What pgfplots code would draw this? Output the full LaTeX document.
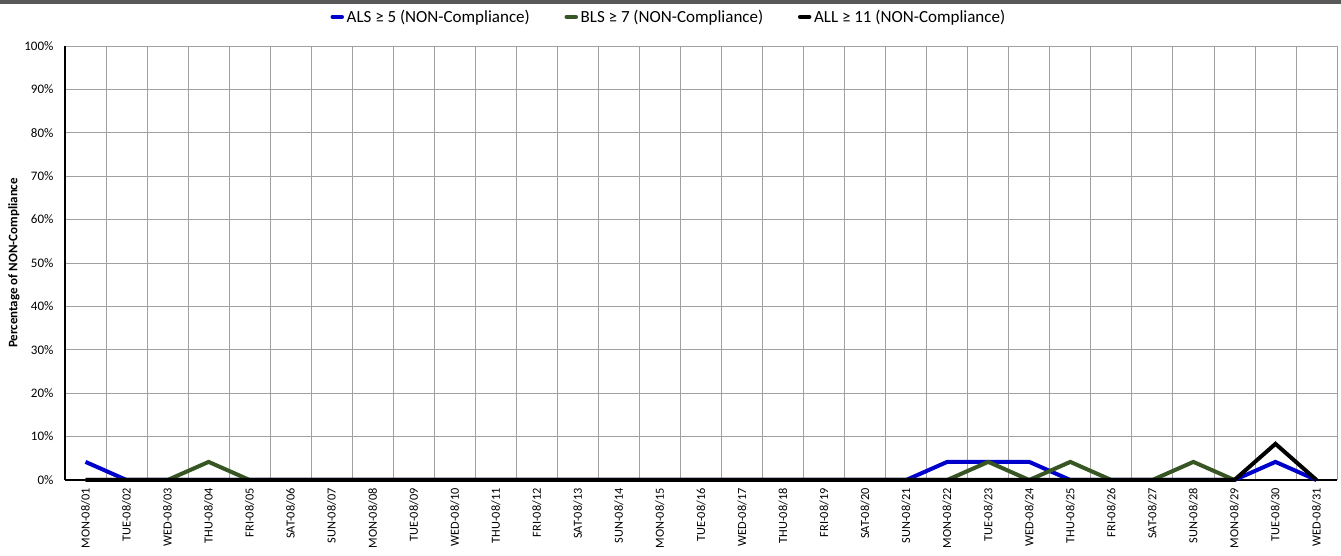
\documentclass[border=0pt]{standalone}
\usepackage{pgfplots}
\pgfplotsset{compat=1.18}
\usepackage{fontspec}
\setmainfont{Carlito}
\definecolor{alsblue}{RGB}{0,0,204}
\definecolor{blsgreen}{RGB}{55,86,35}
\definecolor{gridgray}{RGB}{160,160,160}
\definecolor{topbar}{RGB}{89,89,89}
\begin{document}
\begin{tikzpicture}
\path[use as bounding box] (0,0) rectangle (1005.75pt,417pt);
\fill[topbar] (0,414pt) rectangle (1005.75pt,417pt);
\begin{axis}[
  at={(48.75pt,57pt)}, anchor=south west,
  scale only axis, width=954pt, height=325.5pt,
  xmin=-0.5, xmax=30.5, ymin=0, ymax=100,
  axis lines=left, axis line style={-, line width=1.2pt, black},
  xtick={0,...,30},
  xticklabels={MON-08/01,TUE-08/02,WED-08/03,THU-08/04,FRI-08/05,SAT-08/06,SUN-08/07,MON-08/08,TUE-08/09,WED-08/10,THU-08/11,FRI-08/12,SAT-08/13,SUN-08/14,MON-08/15,TUE-08/16,WED-08/17,THU-08/18,FRI-08/19,SAT-08/20,SUN-08/21,MON-08/22,TUE-08/23,WED-08/24,THU-08/25,FRI-08/26,SAT-08/27,SUN-08/28,MON-08/29,TUE-08/30,WED-08/31},
  minor xtick={-0.5,0.5,...,30.5},
  xminorgrids, ymajorgrids,
  grid style={gridgray, line width=0.6pt},
  minor grid style={gridgray, line width=0.6pt},
  ytick={0,10,...,100},
  yticklabel={\pgfmathprintnumber{\tick}\%},
  /pgf/number format/assume math mode=true,
  major tick length=0pt, minor tick length=0pt,
  x tick label style={rotate=90, anchor=east, font=\fontsize{9.25pt}{11pt}\selectfont, inner sep=0pt, xshift=-6pt},
  y tick label style={font=\fontsize{9.75pt}{11pt}\selectfont, inner sep=0pt, xshift=-8.5pt},
  ylabel={\textbf{Percentage of NON-Compliance}},
  ylabel style={font=\fontsize{9.75pt}{11pt}\selectfont, at={(ticklabel cs:0.5)}, yshift=0pt},
  legend columns=3,
  legend style={at={(0.475,1.067)}, anchor=center, draw=none, fill=none,
    font=\fontsize{12.75pt}{14pt}\selectfont, /tikz/every even column/.append style={column sep=24pt},
    /tikz/every odd column/.append style={column sep=0pt}, inner sep=0pt},
  legend image code/.code={\draw[#1, line cap=round, line width=3pt] (0.1cm,0cm) -- (0.35cm,0cm);},
  clip=false,
]
\addplot[alsblue, line width=3pt] coordinates {
(0,4.17)(1,0)(2,0)(3,0)(4,0)(5,0)(6,0)(7,0)(8,0)(9,0)(10,0)(11,0)(12,0)(13,0)(14,0)(15,0)(16,0)(17,0)(18,0)(19,0)(20,0)(21,4.17)(22,4.17)(23,4.17)(24,0)(25,0)(26,0)(27,0)(28,0)(29,4.17)(30,0)};
\addlegendentry{ALS ≥ 5 (NON-Compliance)}
\addplot[blsgreen, line width=3pt] coordinates {
(0,0)(1,0)(2,0)(3,4.17)(4,0)(5,0)(6,0)(7,0)(8,0)(9,0)(10,0)(11,0)(12,0)(13,0)(14,0)(15,0)(16,0)(17,0)(18,0)(19,0)(20,0)(21,0)(22,4.17)(23,0)(24,4.17)(25,0)(26,0)(27,4.17)(28,0)};
\addlegendentry{BLS ≥ 7 (NON-Compliance)}
\addplot[black, line width=3pt] coordinates {
(0,0)(1,0)(2,0)(3,0)(4,0)(5,0)(6,0)(7,0)(8,0)(9,0)(10,0)(11,0)(12,0)(13,0)(14,0)(15,0)(16,0)(17,0)(18,0)(19,0)(20,0)(21,0)(22,0)(23,0)(24,0)(25,0)(26,0)(27,0)(28,0)(29,8.33)(30,0)};
\addlegendentry{ALL ≥ 11 (NON-Compliance)}
\end{axis}
\end{tikzpicture}
\end{document}
